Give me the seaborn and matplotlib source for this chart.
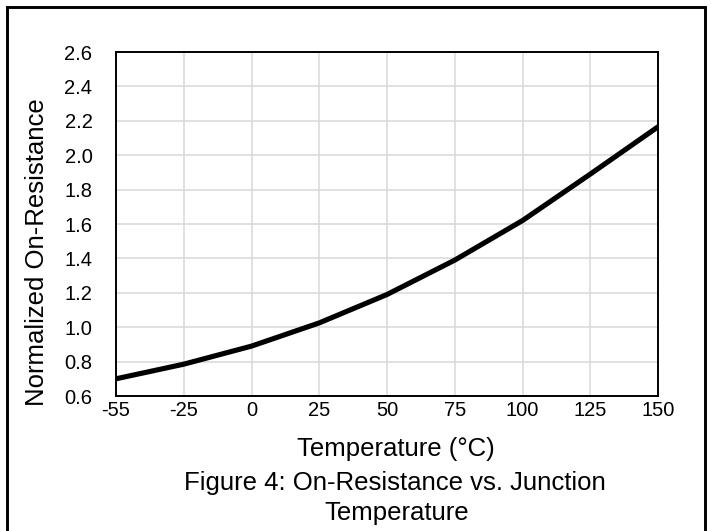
import numpy as np
import pandas as pd
import matplotlib
matplotlib.use("Agg")
import matplotlib.pyplot as plt
import matplotlib.patches as mpatches
import seaborn as sns

# ---- data ----
temperatures = ["-55", "-25", "0", "25", "50", "75", "100", "125", "150"]
norm_resistance = [0.70, 0.785, 0.89, 1.025, 1.19, 1.39, 1.62, 1.89, 2.165]
y_ticks = [0.6, 0.8, 1.0, 1.2, 1.4, 1.6, 1.8, 2.0, 2.2, 2.4, 2.6]

x_label = "Temperature (°C)"
y_label = "Normalized On-Resistance"
caption_1 = "Figure 4: On-Resistance vs. Junction"
caption_2 = "Temperature"

sns.set_style("white")
plt.rcParams["font.family"] = ["Liberation Sans", "DejaVu Sans"]
plt.rcParams["text.color"] = "black"

W, H = 711, 531
fig = plt.figure(figsize=(W / 100, H / 100), dpi=100)
ax = fig.add_axes([116 / W, 1 - 396 / H, (658 - 116) / W, (396 - 52) / H])

df = pd.DataFrame({"pos": np.arange(len(temperatures)), "value": norm_resistance})
sns.lineplot(data=df, x="pos", y="value", ax=ax, color="black", linewidth=3.7)

ax.set_xlim(0, len(temperatures) - 1)
ax.set_ylim(y_ticks[0], y_ticks[-1])
ax.set_xticks(np.arange(len(temperatures)))
ax.set_xticklabels(temperatures)
ax.set_yticks(y_ticks)
ax.set_yticklabels([f"{v:.1f}" for v in y_ticks])
ax.set_xlabel("")
ax.set_ylabel("")

ax.grid(True, color="#d9d9d9", linewidth=1.1)
ax.set_axisbelow(True)
for s in ax.spines.values():
    s.set_visible(True)
    s.set_color("black")
    s.set_linewidth(1.4)

ax.tick_params(axis="x", length=0, pad=3.5, labelsize=14.5, colors="black")
ax.tick_params(axis="y", length=0, pad=17, labelsize=14.5, colors="black")

fig.text(396 / W, 1 - 456 / H, x_label, ha="center", va="baseline", fontsize=18.5, color="black")
fig.text(395 / W, 1 - 490 / H, caption_1, ha="center", va="baseline", fontsize=18.5, color="black")
fig.text(397 / W, 1 - 520 / H, caption_2, ha="center", va="baseline", fontsize=18.5, color="black")
fig.text(37 / W, 1 - 252 / H, y_label, ha="center", va="center", rotation=90, fontsize=18.5, color="black")

# outer frame (open at the bottom edge of the image)
rect = mpatches.Rectangle((6.8 / W, -0.05), (705.3 - 6.8) / W, 1.05 - 7.3 / H,
                          transform=fig.transFigure, fill=False, edgecolor="black",
                          linewidth=2.1)
fig.patches.append(rect)

fig.savefig("out.png", dpi=100)
